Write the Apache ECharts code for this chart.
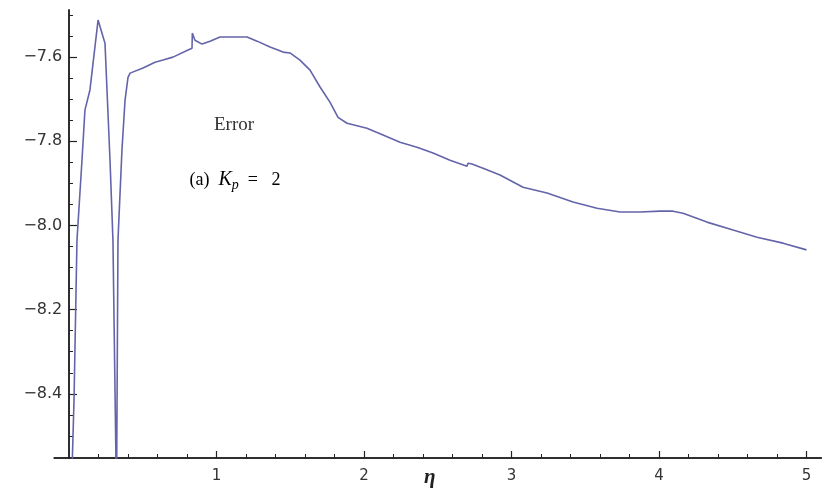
<!DOCTYPE html>
<html>
<head>
<meta charset="utf-8">
<script src="https://cdn.jsdelivr.net/npm/echarts@6/dist/echarts.min.js"></script>
<style>
  html, body { margin: 0; padding: 0; background: #fff; }
  #main { width: 822px; height: 498px; }
</style>
</head>
<body>
<div id="main"></div>
<script>
/* Error curve, Kp = 2 */
var etaValues = [0.015, 0.034, 0.054, 0.088, 0.108, 0.142, 0.197, 0.244, 0.278, 0.298, 0.322,
    0.332, 0.359, 0.38, 0.40, 0.414, 0.502, 0.583, 0.637, 0.705, 0.807, 0.834, 0.836, 0.854,
    0.902, 0.956, 1.024, 1.112, 1.207, 1.275, 1.363, 1.451, 1.498, 1.566, 1.634, 1.702, 1.769,
    1.824, 1.885, 2.020, 2.129, 2.244, 2.359, 2.468, 2.583, 2.698, 2.705, 2.732, 2.807, 2.922,
    3.078, 3.241, 3.417, 3.580, 3.736, 3.871, 4.007, 4.095, 4.163, 4.325, 4.502, 4.664, 4.841, 5.0];
var errorValues = [-8.65, -8.415, -8.035, -7.845, -7.726, -7.678, -7.512, -7.567, -7.845, -8.035, -8.65,
    -8.035, -7.821, -7.702, -7.648, -7.638, -7.626, -7.612, -7.607, -7.600, -7.583, -7.579, -7.543, -7.560,
    -7.569, -7.562, -7.552, -7.552, -7.552, -7.562, -7.576, -7.588, -7.590, -7.607, -7.631, -7.671, -7.707,
    -7.743, -7.757, -7.769, -7.785, -7.802, -7.814, -7.828, -7.845, -7.859, -7.852, -7.854, -7.864, -7.880,
    -7.909, -7.923, -7.944, -7.959, -7.968, -7.968, -7.966, -7.966, -7.971, -7.992, -8.011, -8.028, -8.042, -8.058];

var xTickLabels = [1, 2, 3, 4, 5];
var xMinorTicks = [0.2, 0.4, 0.6, 0.8, 1.2, 1.4, 1.6, 1.8, 2.2, 2.4, 2.6, 2.8,
    3.2, 3.4, 3.6, 3.8, 4.2, 4.4, 4.6, 4.8];
var yTickLabels = [-8.4, -8.2, -8.0, -7.8, -7.6];
var yMinorTicks = [-8.55, -8.5, -8.45, -8.35, -8.3, -8.25, -8.15, -8.1, -8.05, -7.95, -7.9,
    -7.85, -7.75, -7.7, -7.65, -7.55, -7.5];

var axisColor = '#222';
var labelFont = 'DejaVu Sans';
var serif = 'Liberation Serif';

var points = etaValues.map(function (x, i) { return [x, errorValues[i]]; });

var myChart = echarts.init(document.getElementById('main'));
var option = {
    animation: false,
    backgroundColor: '#fff',
    grid: { left: 54.25, right: 0.75, top: 10, bottom: 40, containLabel: false, outerBoundsMode: 'none' },
    xAxis: [
        {
            type: 'value',
            min: -0.1,
            max: 5.1,
            position: 'bottom',
            name: 'η',
            nameLocation: 'middle',
            nameGap: 9,
            nameMoveOverlap: false,
            nameTextStyle: {
                fontFamily: serif, fontStyle: 'italic', fontWeight: 'bold',
                fontSize: 21, color: '#222', padding: [0, 16, 0, 0]
            },
            axisLine: { onZero: false, lineStyle: { color: axisColor, width: 1.5 } },
            axisTick: { show: true, inside: true, length: 7, customValues: xTickLabels,
                lineStyle: { color: axisColor, width: 1.2 } },
            axisLabel: { customValues: xTickLabels, margin: 11, color: '#333',
                fontFamily: labelFont, fontSize: 15 },
            splitLine: { show: false }
        },
        {
            type: 'value',
            min: -0.1,
            max: 5.1,
            position: 'bottom',
            axisLine: { onZero: false, lineStyle: { color: axisColor, width: 1.5 } },
            axisTick: { show: true, inside: true, length: 4, customValues: xMinorTicks,
                lineStyle: { color: axisColor, width: 1 } },
            axisLabel: { show: false },
            splitLine: { show: false }
        }
    ],
    yAxis: [
        {
            type: 'value',
            min: -8.5525,
            max: -7.488,
            position: 'left',
            axisLine: { show: true, onZero: true, onZeroAxisIndex: 0,
                lineStyle: { color: axisColor, width: 1.5 } },
            axisTick: { show: true, inside: true, length: 8, customValues: yTickLabels,
                lineStyle: { color: axisColor, width: 1.2 } },
            axisLabel: {
                customValues: yTickLabels, margin: -8, color: '#333',
                fontFamily: labelFont, fontSize: 16,
                formatter: function (v) { return v.toFixed(1).replace('-', '\u2212'); }
            },
            splitLine: { show: false }
        },
        {
            type: 'value',
            min: -8.5525,
            max: -7.488,
            position: 'left',
            axisLine: { show: true, onZero: true, onZeroAxisIndex: 0,
                lineStyle: { color: axisColor, width: 1.5 } },
            axisTick: { show: true, inside: true, length: 4, customValues: yMinorTicks,
                lineStyle: { color: axisColor, width: 1 } },
            axisLabel: { show: false },
            splitLine: { show: false }
        }
    ],
    graphic: [
        {
            type: 'text',
            x: 234, y: 125,
            style: { text: 'Error', font: '19px "Liberation Serif"', fill: '#333',
                textAlign: 'center', textVerticalAlign: 'middle' }
        },
        {
            type: 'text',
            x: 235, y: 180,
            style: {
                text: '{n|(a)  }{k|K}{s|p}{n|  =   2}',
                textAlign: 'center', textVerticalAlign: 'middle',
                rich: {
                    n: { fontFamily: serif, fontSize: 18, color: '#333' },
                    k: { fontFamily: serif, fontStyle: 'italic', fontSize: 20, color: '#333' },
                    s: { fontFamily: serif, fontStyle: 'italic', fontSize: 14, color: '#333',
                        padding: [10, 0, 0, 0] }
                }
            }
        }
    ],
    series: [
        {
            type: 'line',
            xAxisIndex: 0,
            yAxisIndex: 0,
            data: points,
            showSymbol: false,
            clip: true,
            lineStyle: { color: '#6464aa', width: 1.6 }
        }
    ]
};
myChart.setOption(option);
</script>
</body>
</html>
